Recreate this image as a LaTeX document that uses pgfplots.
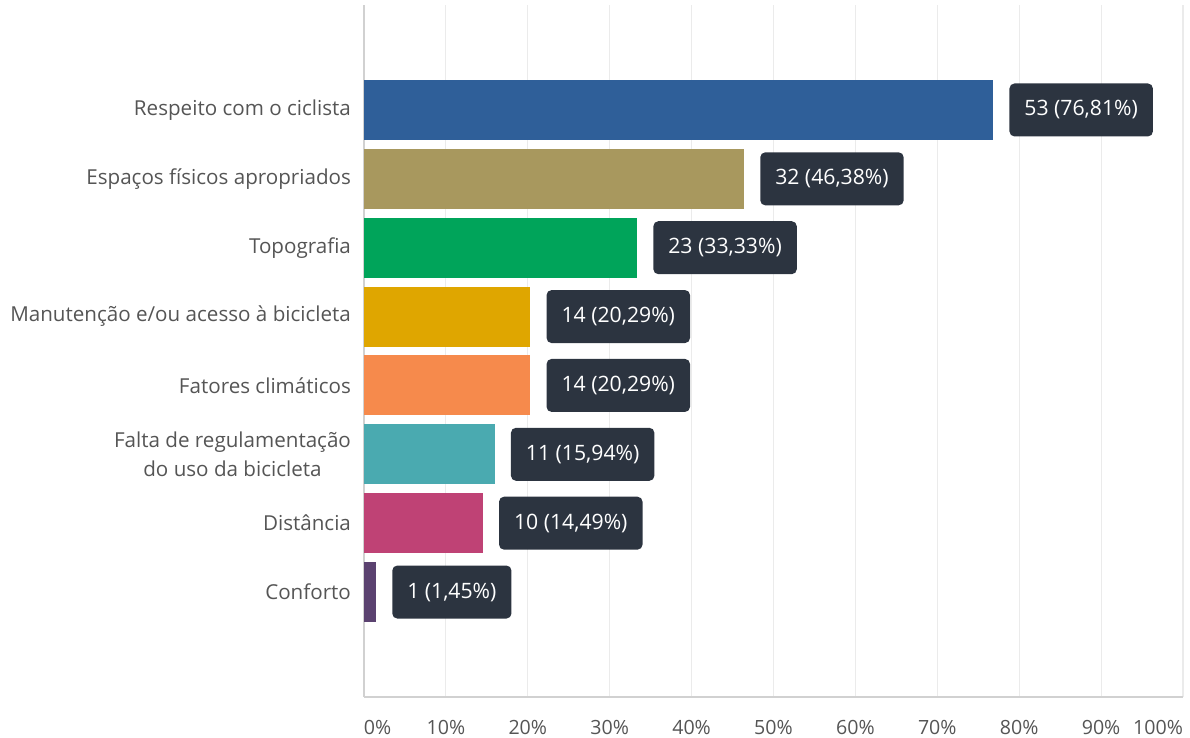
\documentclass[border=0pt]{standalone}
\usepackage{pgfplots}
\pgfplotsset{compat=1.18}
\usepackage{fontspec}
\setmainfont{Open Sans}
\definecolor{cA}{HTML}{2F5F99}
\definecolor{cB}{HTML}{A8985E}
\definecolor{cC}{HTML}{00A45A}
\definecolor{cD}{HTML}{DFA600}
\definecolor{cE}{HTML}{F68A4C}
\definecolor{cF}{HTML}{4AAAB0}
\definecolor{cG}{HTML}{BF4275}
\definecolor{cH}{HTML}{5B4270}
\definecolor{boxc}{HTML}{2C3440}
\definecolor{txt}{HTML}{555555}
\begin{document}
\begin{tikzpicture}
\path[use as bounding box] (0,0) rectangle (595pt,369pt);
\begin{axis}[
  at={(182pt,20.5pt)}, anchor=south west,
  scale only axis, width=409.5pt, height=346pt,
  xbar, bar width=30pt,
  xmin=0, xmax=100, ymin=-1.524, ymax=8.524, y dir=reverse,
  axis lines*=left,
  axis line style={draw=black!18, line width=0.8pt},
  xmajorgrids, major grid style={draw=black!8, line width=0.6pt},
  major tick length=0pt,
  xtick={0,10,...,100},
  xticklabels={\makebox[0pt][l]{0\%},10\%,20\%,30\%,40\%,50\%,60\%,70\%,80\%,90\%,\makebox[0pt][r]{100\%}},
  xticklabel style={font=\fontsize{9.8}{11}\selectfont, text=txt, yshift=-8pt},
  ytick={0,...,7},
  yticklabels={Respeito com o ciclista, Espaços físicos apropriados, Topografia, Manutenção e/ou acesso à bicicleta, Fatores climáticos, {Falta de regulamentação\\do uso da bicicleta}, Distância, Conforto},
  yticklabel style={font=\fontsize{10.3}{14.5}\selectfont, text=txt, align=center, xshift=-3pt},
  point meta=explicit symbolic,
  nodes near coords,
  every node near coord/.style={anchor=west, xshift=8pt, fill=boxc, text=white, rounded corners=2.5pt, inner xsep=7.5pt, minimum height=26.5pt, font=\fontsize{10.6}{12}\selectfont},
  clip=false,
]
\addplot[fill=cA, draw=none, bar shift=0pt] coordinates {(76.81,0) [{53 (76,81\%)}]};
\addplot[fill=cB, draw=none, bar shift=0pt] coordinates {(46.38,1) [{32 (46,38\%)}]};
\addplot[fill=cC, draw=none, bar shift=0pt] coordinates {(33.33,2) [{23 (33,33\%)}]};
\addplot[fill=cD, draw=none, bar shift=0pt] coordinates {(20.29,3) [{14 (20,29\%)}]};
\addplot[fill=cE, draw=none, bar shift=0pt] coordinates {(20.29,4) [{14 (20,29\%)}]};
\addplot[fill=cF, draw=none, bar shift=0pt] coordinates {(15.94,5) [{11 (15,94\%)}]};
\addplot[fill=cG, draw=none, bar shift=0pt] coordinates {(14.49,6) [{10 (14,49\%)}]};
\addplot[fill=cH, draw=none, bar shift=0pt] coordinates {(1.45,7) [{1 (1,45\%)}]};
\end{axis}
\end{tikzpicture}
\end{document}
